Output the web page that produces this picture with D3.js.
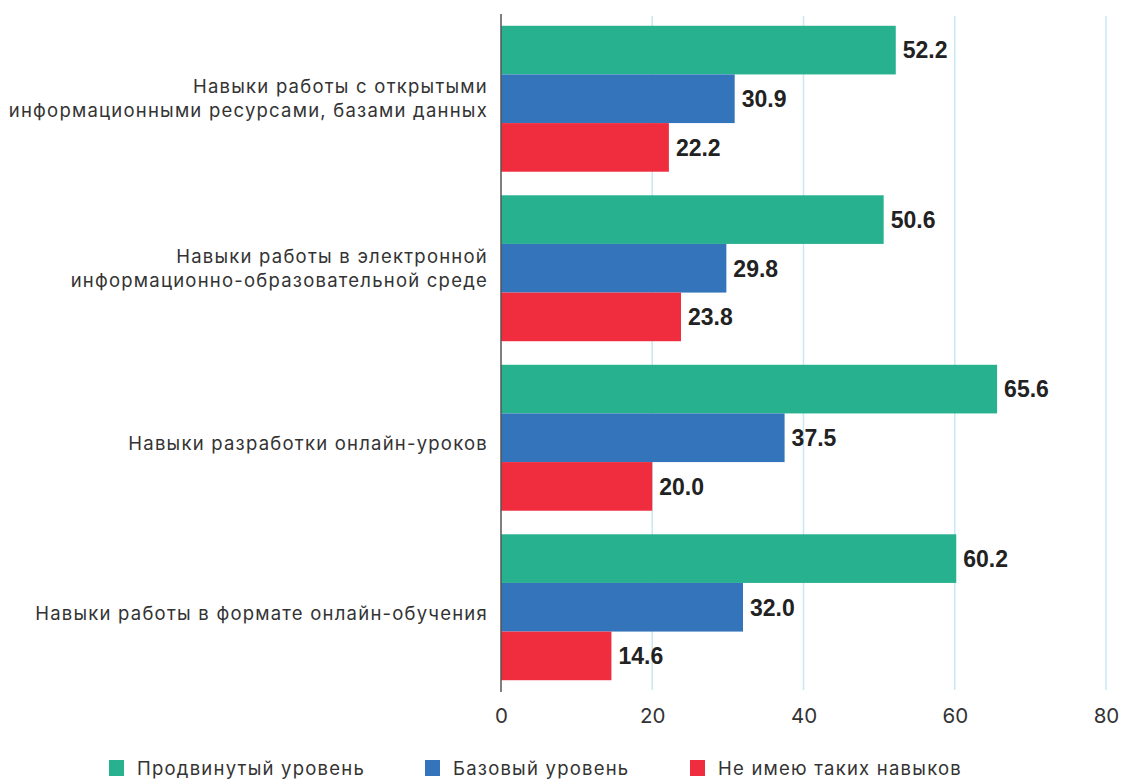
<!DOCTYPE html>
<html>
<head>
<meta charset="utf-8">
<script src="https://cdn.jsdelivr.net/npm/d3@7"></script>
<style>
  html, body { margin: 0; padding: 0; background: #fff; }
  svg { display: block; }
</style>
</head>
<body>
<svg id="chart" width="1121" height="779"></svg>
<script>
// Categories (each label split into display lines)
const categories = [
  ["Навыки работы с открытыми", "информационными ресурсами, базами данных"],
  ["Навыки работы в электронной", "информационно-образовательной среде"],
  ["Навыки разработки онлайн-уроков"],
  ["Навыки работы в формате онлайн-обучения"]
];
const seriesNames = ["Продвинутый уровень", "Базовый уровень", "Не имею таких навыков"];
const advanced = [52.2, 50.6, 65.6, 60.2];
const basic    = [30.9, 29.8, 37.5, 32.0];
const none     = [22.2, 23.8, 20.0, 14.6];
const xTicks   = [0, 20, 40, 60, 80];

const colors = ["#27b18f", "#3374bb", "#ef2d3f"];
const seriesValues = [advanced, basic, none];

const svg = d3.select("#chart");
const textFont = "Inter, 'Noto Sans', sans-serif";
const labelSize = 18.5;
const labelSpacing = "1.22px";

const x = d3.scaleLinear().domain([0, 80]).range([501, 1106]);
const y0 = d3.scaleBand().domain(d3.range(categories.length)).range([14, 692])
  .paddingInner(0.139).paddingOuter(0.0695);
const y1 = d3.scaleBand().domain(d3.range(seriesNames.length)).range([0, y0.bandwidth()]);

// vertical gridlines
svg.append("g").selectAll("line").data(xTicks.filter(d => d > 0)).join("line")
  .attr("x1", d => x(d)).attr("x2", d => x(d))
  .attr("y1", 16).attr("y2", 690)
  .attr("stroke", "#c8e8f4").attr("stroke-width", 1.5);

// bars with value labels
const groups = svg.append("g").selectAll("g").data(categories).join("g")
  .attr("transform", (d, i) => `translate(0,${y0(i)})`);

groups.each(function(cat, ci) {
  const g = d3.select(this);
  seriesValues.forEach((vals, si) => {
    const v = vals[ci];
    g.append("rect")
      .attr("x", x(0)).attr("y", y1(si))
      .attr("width", x(v) - x(0)).attr("height", y1.bandwidth())
      .attr("fill", colors[si]);
    g.append("text")
      .attr("x", x(v) + 7).attr("y", y1(si) + y1.bandwidth() / 2)
      .attr("dy", "0.36em")
      .attr("font-family", "'Liberation Sans', Arial, sans-serif")
      .attr("font-weight", "bold").attr("font-size", 23)
      .attr("fill", "#222")
      .text(v.toFixed(1));
  });
  // category label; single-line labels sit slightly below the band centre
  const lh = 24;
  const cy = y0.bandwidth() / 2 + (cat.length === 1 ? 6 : 0);
  const t = g.append("text")
    .attr("text-anchor", "end")
    .attr("font-family", textFont).attr("font-size", labelSize)
    .attr("letter-spacing", labelSpacing)
    .attr("fill", "#333");
  cat.forEach((line, li) => {
    t.append("tspan")
      .attr("x", 488)
      .attr("y", cy + (li - (cat.length - 1) / 2) * lh)
      .attr("dy", "0.35em")
      .text(line);
  });
});

// axis line at zero
svg.append("line")
  .attr("x1", x(0)).attr("x2", x(0)).attr("y1", 14).attr("y2", 692)
  .attr("stroke", "#555").attr("stroke-width", 1.5);

// x tick labels
const xAxis = d3.axisBottom(x).tickValues(xTicks).tickSize(0).tickPadding(0);
const ax = svg.append("g").attr("transform", "translate(0,708)").call(xAxis);
ax.select(".domain").remove();
ax.selectAll("text")
  .attr("font-family", textFont).attr("font-size", 20.5)
  .attr("fill", "#333").attr("dy", "0.71em");

// legend
const legendX = [109, 425, 690];
const lg = svg.append("g").selectAll("g").data(seriesNames).join("g")
  .attr("transform", (d, i) => `translate(${legendX[i]},768)`);
lg.append("rect").attr("x", 0).attr("y", -8).attr("width", 15).attr("height", 16)
  .attr("fill", (d, i) => colors[i]);
lg.append("text").attr("x", 28).attr("y", 0).attr("dy", "0.36em")
  .attr("font-family", textFont).attr("font-size", labelSize)
  .attr("letter-spacing", labelSpacing)
  .attr("fill", "#333")
  .text(d => d);
</script>
</body>
</html>
